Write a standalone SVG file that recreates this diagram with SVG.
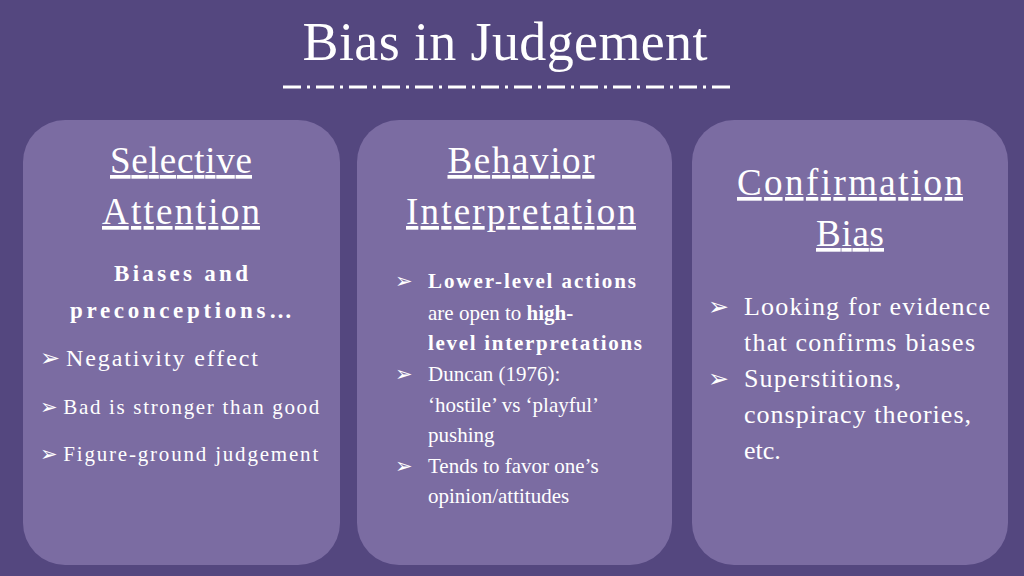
<svg xmlns="http://www.w3.org/2000/svg" width="1024" height="576" viewBox="0 0 1024 576">
<style>
.t{font-family:"Liberation Serif",serif;fill:#fff}
.h{font-size:37px;text-decoration:underline;text-anchor:middle}
.b{font-size:23px}
.s{font-size:21px}
.bd{font-weight:bold}
.p{fill:#7b6ca2}
</style>
<rect width="1024" height="576" fill="#54477f"/>
<text class="t" x="505" y="60" font-size="54" text-anchor="middle" textLength="405">Bias in Judgement</text>
<line x1="283" y1="87" x2="735" y2="87" stroke="#fff" stroke-width="3" stroke-dasharray="18 6 3 6"/>
<g id="selective">
<rect class="p" x="23" y="120" width="317" height="445" rx="42"/>
<text class="t h" x="181" y="173" textLength="142">Selective</text>
<text class="t h" x="181" y="224" textLength="158">Attention</text>
<text class="t b bd" x="181" y="281" text-anchor="middle" textLength="134">Biases and</text>
<text class="t b bd" x="181" y="318" text-anchor="middle" textLength="222">preconceptions…</text>
<text class="t" x="40" y="366" font-size="24">➢ <tspan textLength="192">Negativity effect</tspan></text>
<text class="t s" x="40" y="414">➢ <tspan textLength="256">Bad is stronger than good</tspan></text>
<text class="t s" x="40" y="461">➢ <tspan textLength="255">Figure-ground judgement</tspan></text>
</g>
<g id="behavior">
<rect class="p" x="357" y="120" width="315" height="445" rx="42"/>
<text class="t h" x="521" y="173" textLength="147">Behavior</text>
<text class="t h" x="521" y="224" textLength="230">Interpretation</text>
<text class="t s" x="395" y="288">➢</text>
<text class="t s bd" x="428" y="288" textLength="208">Lower-level actions</text>
<text class="t s" x="428" y="320">are open to <tspan class="bd">high-</tspan></text>
<text class="t s bd" x="428" y="350" textLength="214">level interpretations</text>
<text class="t s" x="395" y="381">➢</text>
<text class="t s" x="428" y="381">Duncan (1976):</text>
<text class="t s" x="428" y="412">‘hostile’ vs ‘playful’</text>
<text class="t s" x="428" y="442">pushing</text>
<text class="t s" x="395" y="473">➢</text>
<text class="t s" x="428" y="473">Tends to favor one’s</text>
<text class="t s" x="428" y="503">opinion/attitudes</text>
</g>
<g id="confirmation">
<rect class="p" x="692" y="120" width="316" height="445" rx="42"/>
<text class="t h" x="850" y="195" textLength="226">Confirmation</text>
<text class="t h" x="850" y="246" textLength="68">Bias</text>
<text class="t" x="708" y="315" font-size="25">➢</text>
<text class="t" x="744" y="315" font-size="26" textLength="246">Looking for evidence</text>
<text class="t" x="744" y="351" font-size="26" textLength="231">that confirms biases</text>
<text class="t" x="708" y="387" font-size="25">➢</text>
<text class="t" x="744" y="387" font-size="26" textLength="157">Superstitions,</text>
<text class="t" x="744" y="423" font-size="26" textLength="227">conspiracy theories,</text>
<text class="t" x="744" y="459" font-size="26">etc.</text>
</g>
<g id="connectors"/>
</svg>
